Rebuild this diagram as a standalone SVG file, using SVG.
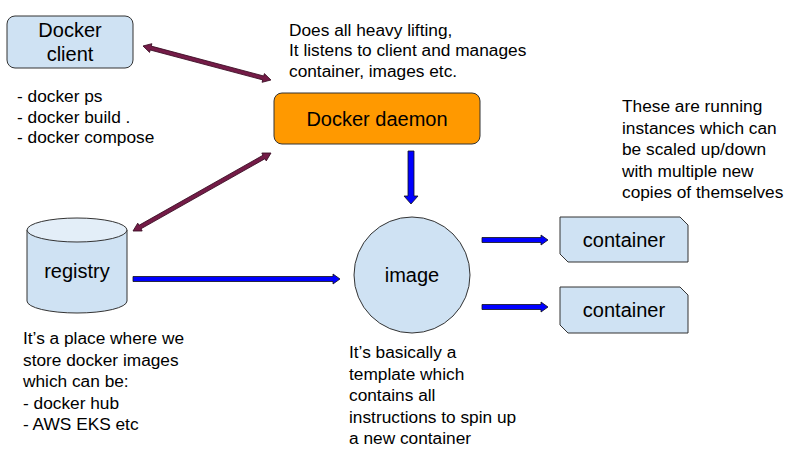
<svg xmlns="http://www.w3.org/2000/svg" width="800" height="455" viewBox="0 0 800 455">
<style>
text{font-family:"Liberation Sans",Arial,sans-serif;fill:#000}
.n{font-size:20px;text-anchor:middle}
.a{font-size:17.3px}
.box{fill:#cfe2f3;stroke:#333;stroke-width:1}
.blue{fill:#0000ff;stroke:#111;stroke-width:0.8}
.mar{fill:#741b47;stroke:#3a0d24;stroke-width:0.8}
</style>
<rect width="800" height="455" fill="#fff"/>
<g id="connectors">
<path class="mar" transform="translate(143,46) rotate(14.88)" d="M0,0 L8,-4.5 L8,-2 L124.4,-2 L124.4,-4.5 L132.4,0 L124.4,4.5 L124.4,2 L8,2 L8,4.5 Z"/>
<path class="mar" transform="translate(133,231) rotate(-29.47)" d="M0,0 L8,-4.5 L8,-2 L150.5,-2 L150.5,-4.5 L158.5,0 L150.5,4.5 L150.5,2 L8,2 L8,4.5 Z"/>
<path class="blue" d="M408,151 L414,151 L414,196 L418,196 L411,204 L404,196 L408,196 Z"/>
<path class="blue" d="M133,276.5 L333,276.5 L333,274 L340,279 L333,284 L333,281.5 L133,281.5 Z"/>
<path class="blue" d="M482,237.5 L541,237.5 L541,235 L548,240 L541,245 L541,242.5 L482,242.5 Z"/>
<path class="blue" d="M482,304.5 L541,304.5 L541,302 L548,307 L541,312 L541,309.5 L482,309.5 Z"/>
</g>
<g id="client">
<rect class="box" x="7" y="16" width="126" height="52" rx="8"/>
<text class="n" x="70" y="37">Docker</text>
<text class="n" x="70" y="61">client</text>
</g>
<g id="client-notes">
<text class="a" x="17" y="102">- docker ps</text>
<text class="a" x="17" y="122.5">- docker build .</text>
<text class="a" x="17" y="143">- docker compose</text>
</g>
<g id="daemon-notes">
<text class="a" x="289" y="35.5">Does all heavy lifting,</text>
<text class="a" x="289" y="56">It listens to client and manages</text>
<text class="a" x="289" y="76.5">container, images etc.</text>
</g>
<g id="daemon">
<rect x="274" y="93" width="206" height="51" rx="8" fill="#ff9900" stroke="#333" stroke-width="1"/>
<text class="n" x="377" y="126">Docker daemon</text>
</g>
<g id="container-notes">
<text class="a" x="622" y="112">These are running</text>
<text class="a" x="622" y="133.5">instances which can</text>
<text class="a" x="622" y="155">be scaled up/down</text>
<text class="a" x="622" y="176.5">with multiple new</text>
<text class="a" x="622" y="198">copies of themselves</text>
</g>
<g id="registry">
<path class="box" d="M27,230 L27,301 A50,12 0 0 0 127,301 L127,230 Z"/>
<ellipse cx="77" cy="230" rx="50" ry="12" fill="#e3eef8" stroke="#333" stroke-width="1"/>
<text class="n" x="77" y="278">registry</text>
</g>
<g id="image">
<circle class="box" cx="412" cy="275" r="58"/>
<text class="n" x="412" y="282">image</text>
</g>
<g id="container1">
<path class="box" d="M560,217 L680,217 L688,225 L688,262 L568,262 L560,254 Z"/>
<text class="n" x="624" y="247">container</text>
</g>
<g id="container2">
<path class="box" d="M560,287 L680,287 L688,295 L688,333 L568,333 L560,325 Z"/>
<text class="n" x="624" y="317">container</text>
</g>
<g id="registry-notes">
<text class="a" x="23" y="344">It’s a place where we</text>
<text class="a" x="23" y="365.5">store docker images</text>
<text class="a" x="23" y="387">which can be:</text>
<text class="a" x="23" y="408.5">- docker hub</text>
<text class="a" x="23" y="430">- AWS EKS etc</text>
</g>
<g id="image-notes">
<text class="a" x="349" y="358">It’s basically a</text>
<text class="a" x="349" y="379.5">template which</text>
<text class="a" x="349" y="401">contains all</text>
<text class="a" x="349" y="422.5">instructions to spin up</text>
<text class="a" x="349" y="444">a new container</text>
</g>
</svg>
